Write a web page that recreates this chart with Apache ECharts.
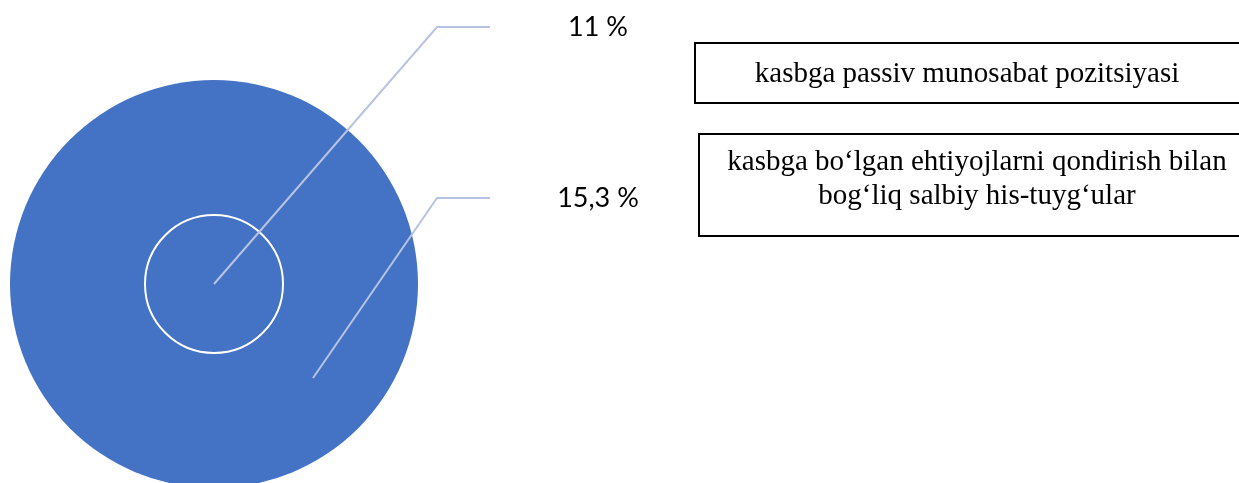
<!DOCTYPE html>
<html>
<head>
<meta charset="utf-8">
<script src="https://cdn.jsdelivr.net/npm/echarts@6/dist/echarts.min.js"></script>
<style>
  html, body { margin: 0; padding: 0; background: #fff; }
  #main { width: 1239px; height: 483px; }
</style>
</head>
<body>
<div id="main"></div>
<script>
// data
var names = ['kasbga passiv munosabat pozitsiyasi', 'kasbga bo\u2018lgan ehtiyojlarni qondirish bilan\nbog\u2018liq salbiy his-tuyg\u2018ular'];
var values = [11, 15.3];

// layout
var cx = 214, cy = 284;
var innerR = 69, outerR = 204;
var lineColor = '#b7c3e3';
var blue = '#4472c4';
// label positions and guide lines: [inner, outer]
var labelPos = [[598, 27], [598, 198]];
var guides = [
    [[cx, cy], [437, 27], [490, 27]],
    [[313, 378], [437, 198], [490, 198]]
];

function pctLabel(p) {
    return String(p.value).replace('.', ',') + ' %';
}

function init() {
    var option = {
        animation: false,
        series: [
            {
                // outer ring
                type: 'pie',
                center: [cx, cy],
                radius: [0, outerR],
                silent: true,
                z: 1,
                label: { show: false },
                labelLine: { show: false },
                itemStyle: { color: blue },
                data: [{ name: names[1], value: values[1] }]
            },
            {
                // inner circle
                type: 'pie',
                center: [cx, cy],
                radius: [0, innerR],
                silent: true,
                z: 2,
                label: { show: false },
                labelLine: { show: false },
                itemStyle: { color: blue, borderColor: '#fff', borderWidth: 2 },
                data: [{ name: names[0], value: values[0] }]
            },
            {
                // transparent layer carrying the percent labels on top
                type: 'pie',
                center: [cx, cy],
                radius: [0, outerR],
                avoidLabelOverlap: false,
                silent: true,
                z: 3,
                itemStyle: { color: 'rgba(0,0,0,0)' },
                data: [
                    { name: names[0], value: values[0] },
                    { name: names[1], value: values[1] }
                ],
                label: {
                    show: true,
                    position: 'outside',
                    formatter: pctLabel,
                    fontFamily: 'Lato',
                    fontSize: 27,
                    color: '#000'
                },
                labelLine: { show: true, lineStyle: { color: lineColor, width: 2 } },
                labelLayout: function (params) {
                    var i = params.dataIndex;
                    return {
                        x: labelPos[i][0], y: labelPos[i][1],
                        align: 'center', verticalAlign: 'middle',
                        labelLinePoints: guides[i]
                    };
                }
            }
        ],
        graphic: [
            {
                type: 'rect',
                shape: { x: 695, y: 43, width: 560, height: 60 },
                style: { fill: '#fff', stroke: '#000', lineWidth: 2 }
            },
            {
                type: 'text',
                style: {
                    x: 967, y: 74, text: names[0],
                    align: 'center', verticalAlign: 'middle',
                    font: '29px "Liberation Serif"', fill: '#000'
                }
            },
            {
                type: 'rect',
                shape: { x: 699, y: 134, width: 560, height: 102 },
                style: { fill: '#fff', stroke: '#000', lineWidth: 2 }
            },
            {
                type: 'text',
                style: {
                    x: 977, y: 179, text: names[1],
                    align: 'center', verticalAlign: 'middle', lineHeight: 34,
                    font: '29px "Liberation Serif"', fill: '#000'
                }
            }
        ]
    };
    var myChart = echarts.init(document.getElementById('main'));
    myChart.setOption(option);
}
init();
</script>
</body>
</html>
